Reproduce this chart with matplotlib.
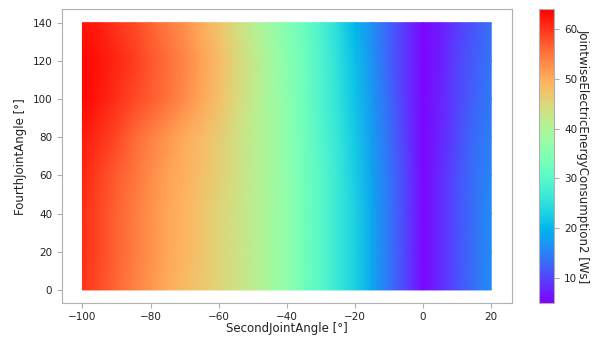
import numpy as np
import matplotlib
matplotlib.use("Agg")
import matplotlib.pyplot as plt

# ---------------------------------------------------------------------
# Data (energy in Ws on a joint-angle grid)
# ---------------------------------------------------------------------
second_joint = np.arange(-100, 21, 5)          # x knots [deg]
fourth_joint = np.array([0, 20, 40, 60, 80, 100, 120, 140])  # y knots [deg]

energy_y0 = [60, 58, 56, 54, 52, 50, 48.5, 47, 45.5, 43.5, 41.5, 39, 36.5,
             33, 30, 26.5, 23, 18.5, 14, 10, 5.5, 8, 11, 13.5, 16]
energy_y20 = [60.5, 58.5, 56.5, 54.5, 52.5, 50.5, 49, 47.5, 45.5, 43.5, 41.5, 39, 36.5,
              33, 30, 26.5, 23, 18.5, 14, 10, 5.5, 8, 11, 13.5, 16]
energy_y40 = [60.5, 58.5, 56.5, 54.5, 52.5, 50.5, 49, 47.5, 45.5, 43.5, 41.5, 39, 36.5,
              33, 30, 26.5, 23, 18.5, 14, 10, 5.5, 8, 11, 13.5, 16]
energy_y60 = [61, 59, 57, 55, 53, 51, 49.5, 48, 46, 44, 41.5, 39, 36.5,
              33, 30, 26.5, 22.5, 18, 14, 10, 5.5, 8, 11, 13.5, 15.5]
energy_y80 = [62, 60.5, 58.5, 56, 54, 52, 50, 48.5, 46.5, 44, 41.5, 39, 36,
              33, 29.5, 26, 22, 17.5, 13.5, 9.5, 5.5, 7.5, 10.5, 13, 15]
energy_y100 = [63.5, 62, 60.5, 58.5, 57, 55, 53, 50.5, 48, 45, 42, 39, 36,
               32.5, 29, 25.5, 21.5, 17, 13, 9, 5.5, 7.5, 10, 12.5, 14.5]
energy_y120 = [63.5, 62.5, 61, 59.5, 57.5, 55.5, 53.5, 51, 48.5, 45.5, 42.5, 39, 35.5,
               32.5, 29, 25, 21, 16.5, 12.5, 9, 5.5, 7, 10, 12, 14]
energy_y140 = [62.5, 61.5, 60, 58.5, 56.5, 54.5, 52.5, 50, 47.5, 44.5, 41, 38, 35,
               32, 28.5, 24.5, 20, 16, 12.5, 9, 5.5, 7, 9.5, 11.5, 13.5]

energy = np.array([energy_y0, energy_y20, energy_y40, energy_y60,
                   energy_y80, energy_y100, energy_y120, energy_y140])

# ---------------------------------------------------------------------
# Figure
# ---------------------------------------------------------------------
grey = "#b0b0b0"
fig = plt.figure(figsize=(5.94, 3.44), dpi=100)
ax = fig.add_axes([0.1044, 0.1183, 0.757, 0.8547])
cax = fig.add_axes([0.9079, 0.1183, 0.0253, 0.8547])

mesh = ax.pcolormesh(second_joint, fourth_joint, energy, cmap="rainbow",
                     shading="gouraud", vmin=4.9, vmax=64)

ax.set_xlim(-106, 26)
ax.set_ylim(-7, 147)
ax.set_xticks([-100, -80, -60, -40, -20, 0, 20])
ax.set_yticks([0, 20, 40, 60, 80, 100, 120, 140])
ax.set_xlabel("SecondJointAngle [°]", fontsize=8.5, color="#222222", labelpad=0.5)
ax.set_ylabel("FourthJointAngle [°]", fontsize=8.5, color="#222222")
ax.tick_params(labelsize=7.5, colors=grey, labelcolor="#222222", length=3.5)
ax.tick_params(axis="x", pad=2.5)
for s in ax.spines.values():
    s.set_color(grey)

cb = fig.colorbar(mesh, cax=cax)
cb.set_ticks([10, 20, 30, 40, 50, 60])
cb.set_label("JointwiseElectricEnergyConsumption2 [Ws]", rotation=270,
             labelpad=9, fontsize=8.5, color="#222222")
cb.ax.tick_params(labelsize=7.5, colors=grey, labelcolor="#222222", length=3.5)
cb.outline.set_edgecolor(grey)

fig.savefig("out.png", dpi=100)
